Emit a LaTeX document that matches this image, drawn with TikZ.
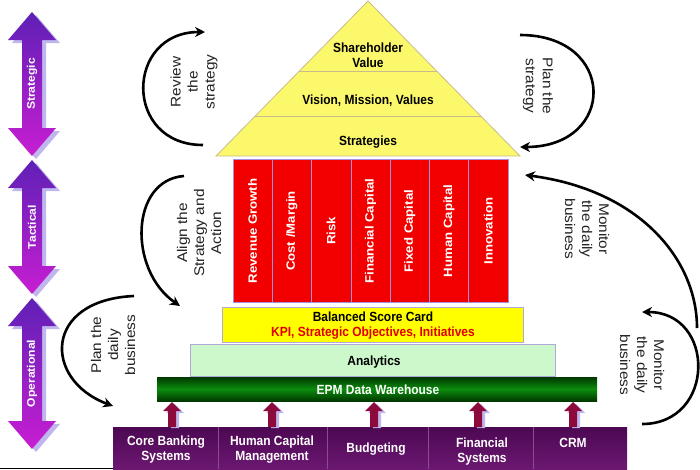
\documentclass[tikz,border=0pt]{standalone}
\usepackage{fontspec}
\setmainfont{Liberation Sans}
\newfontfamily\hfam[FakeStretch=0.9]{Liberation Sans}
\newfontfamily\vfam[FakeStretch=1.1]{Liberation Sans}
\usetikzlibrary{arrows.meta}

\definecolor{pyrfill}{HTML}{FCF86C}
\definecolor{pyredge}{HTML}{C8BC8C}
\definecolor{pillar}{HTML}{F20000}
\definecolor{pillarline}{HTML}{A890E0}
\definecolor{bscfill}{HTML}{FFFF00}
\definecolor{boxedge}{HTML}{B0A8D8}
\definecolor{anafill}{HTML}{CCF8CC}
\definecolor{epmdark}{HTML}{003800}
\definecolor{epmmid}{HTML}{0C8C0C}
\definecolor{srctop}{HTML}{4C0852}
\definecolor{srcbot}{HTML}{6C1872}
\definecolor{srcline}{HTML}{8E4A92}
\definecolor{feedarrow}{HTML}{8C0A3C}
\definecolor{softshadow}{HTML}{C0B6EE}
\definecolor{lvltop}{HTML}{5E20B6}
\definecolor{lvlbot}{HTML}{C81ED2}
\definecolor{kpired}{HTML}{E00000}
\definecolor{cycletext}{HTML}{222222}
\definecolor{baseline}{HTML}{F4B4B4}

\tikzset{
  boldtext/.style={font=\hfam\bfseries\fontsize{13.3}{15}\selectfont, align=center, inner sep=0pt},
  pillartext/.style={font=\vfam\bfseries\fontsize{12}{14}\selectfont, text=white, rotate=90, inner sep=0pt},
  leveltext/.style={font=\vfam\bfseries\fontsize{11}{13}\selectfont, text=white, rotate=90, inner sep=0pt},
  cycletxt/.style={font=\vfam\fontsize{14}{17}\selectfont, text=cycletext, align=center, inner sep=0pt},
  cyclearc/.style={line width=2.6pt, -{Stealth[length=10pt,width=10pt]}},
}

\begin{document}
\begin{tikzpicture}[x=1pt,y=-1pt]
\useasboundingbox (0,0) rectangle (700,469);

% level arrows on the left
\foreach \t/\b/\lab/\nm in {12/156/Strategic/strat, 160/294/Tactical/tact, 298/449/Operational/oper}{
  \fill[softshadow] ({32+4},{\t+3}) -- ({56+4},{\t+31}) -- ({42+4},{\t+31}) -- ({42+4},{\b-28+3}) -- ({56+4},{\b-28+3})
        -- ({32+4},{\b+3}) -- ({8+4},{\b-28+3}) -- ({22+4},{\b-28+3}) -- ({22+4},{\t+31}) -- ({8+4},{\t+31}) -- cycle;
  \shade[top color=lvltop, bottom color=lvlbot] (32,\t) -- (56,{\t+28}) -- (42,{\t+28}) -- (42,{\b-28}) -- (56,{\b-28})
        -- (32,\b) -- (8,{\b-28}) -- (22,{\b-28}) -- (22,{\t+28}) -- (8,{\t+28}) -- cycle;
  \node[leveltext] (\nm) at (32,{(\t+\b)/2}) {\lab};
}

% pyramid
\filldraw[fill=pyrfill, draw=pyredge, line width=0.8pt] (368,1) -- (520,156) -- (216,156) -- cycle;
\draw[pyredge, line width=0.8pt] (299.4,71) -- (436.6,71);
\draw[pyredge, line width=0.8pt] (255.2,116) -- (480.8,116);
\node[boldtext] (share) at (368,55) {Shareholder\\Value};
\node[boldtext] (vision) at (368,101) {Vision, Mission, Values};
\node[boldtext] (strategies) at (368,142) {Strategies};

% pillars
\filldraw[fill=pillar, draw=pillarline, line width=0.8pt] (233,159) rectangle (508,302);
\foreach \k in {1,...,6}{
  \draw[pillarline, line width=0.8pt] ({233+39.3*\k},159) -- ({233+39.3*\k},302);
}
\foreach \k/\lab in {0/{Revenue Growth}, 1/{Cost /Margin}, 2/{Risk}, 3/{Financial Capital}, 4/{Fixed Capital}, 5/{Human Capital}, 6/{Innovation}}{
  \node[pillartext] (pillar\k) at ({233+39.3*\k+19.6},231) {\lab};
}

% scorecard, analytics, warehouse
\filldraw[fill=bscfill, draw=boxedge, line width=0.8pt] (222,307) rectangle (523,342);
\node[boldtext] (bsc) at (373,317) {Balanced Score Card};
\node[boldtext, text=kpired] (kpi) at (373,333) {KPI, Strategic Objectives, Initiatives};

\filldraw[fill=anafill, draw=boxedge, line width=0.8pt] (190,344) rectangle (555,376);
\node[boldtext] (analytics) at (374,362) {Analytics};

\shade[top color=epmdark, bottom color=epmdark, middle color=epmmid] (157,377) rectangle (597,401);
\node[boldtext, text=white] (epm) at (378,390) {EPM Data Warehouse};

% source systems
\shade[top color=srctop, bottom color=srcbot] (113,427) rectangle (627,469);
\foreach \xx in {218,327,428,533}{
  \draw[srcline, line width=0.8pt] (\xx,427) -- (\xx,469);
}
\node[boldtext, text=white] (core) at (166,450) {Core Banking\\Systems};
\node[boldtext, text=white] (hcm) at (272,450) {Human Capital\\Management};
\node[boldtext, text=white] (budget) at (376,449) {Budgeting};
\node[boldtext, text=white] (finsys) at (482,452) {Financial\\Systems};
\node[boldtext, text=white] (crm) at (573,443) {CRM};
\draw[baseline, line width=1pt] (0,468) -- (113,468);

% feed arrows into the warehouse
\foreach \xx in {172,272,374,478,573}{
  \fill[softshadow] ({\xx+3},404) -- ({\xx+12},413) -- ({\xx+7},413) -- ({\xx+7},428) -- ({\xx-1},428) -- ({\xx-1},413) -- ({\xx-6},413) -- cycle;
  \fill[feedarrow] (\xx,402) -- ({\xx+9},411) -- ({\xx+4},411) -- ({\xx+4},427) -- ({\xx-4},427) -- ({\xx-4},411) -- ({\xx-9},411) -- cycle;
}

% cycle arcs
\coordinate (rvS) at (203,145); \coordinate (rvE) at (205,32);
\coordinate (psS) at (520,35);  \coordinate (psE) at (520,147);
\coordinate (alS) at (184,176); \coordinate (alE) at (180,306);
\coordinate (pdS) at (134,296); \coordinate (pdE) at (113,406);
\coordinate (muS) at (697,328); \coordinate (muE) at (525,175);
\coordinate (mlS) at (642,424); \coordinate (mlE) at (642,312);

\draw[cyclearc] (rvS) .. controls +(-80,0) and +(-80,0) .. (rvE);
\draw[cyclearc] (psS) .. controls +(97,0) and +(97,0) .. (psE);
\draw[cyclearc] (alS) .. controls +(-54,4) and +(-52,-36) .. (alE);
\draw[cyclearc] (pdS) .. controls +(-91,4) and +(-70,-26) .. (pdE);
\draw[cyclearc] (muS) .. controls +(0,-68) and +(115,15) .. (muE);
\draw[cyclearc] (mlS) .. controls +(74,0) and +(74,0) .. (mlE);

\node[cycletxt, rotate=90] (review) at (194,82) {Review\\the\\strategy};
\node[cycletxt, rotate=-90] (planstrat) at (538,86) {Plan the\\strategy};
\node[cycletxt, rotate=90] (align) at (199,233) {Align the\\Strategy and\\Action};
\node[cycletxt, rotate=90] (plandaily) at (113,345) {Plan the\\daily\\business};
\node[cycletxt, rotate=-90] (monup) at (587,229) {Monitor\\the daily\\business};
\node[cycletxt, rotate=-90] (monlow) at (642,365) {Monitor\\the daily\\business};
\end{tikzpicture}
\end{document}
